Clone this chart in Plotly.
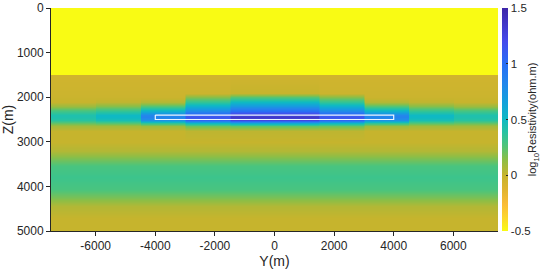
import plotly.graph_objects as go

# horizontal blocks of the inversion grid (m)
block_edges = [-7500, -6000, -4500, -3000, -1500, 0, 1500, 3000, 4500, 6000, 7500]

# depth nodes (m)
depth_nodes = [0, 1490, 1510, 1900, 2000, 2100, 2200, 2300, 2400, 2450, 2500, 2580,
               2650, 2750, 3000, 3200, 3350, 3550, 3800, 4050, 4250, 4450, 4700, 5000]

# log10 resistivity profiles, outer block -> centre block (mirrored on the right)
prof_7500_6000 = [-0.5, -0.5, -0.05, -0.03, -0.02, 0.0, 0.1, 0.3, 0.42, 0.42, 0.38, 0.22,
                  0.08, 0.0, 0.0, 0.05, 0.15, 0.28, 0.32, 0.28, 0.17, 0.05, 0.0, 0.0]
prof_6000_4500 = [-0.5, -0.5, -0.05, -0.03, -0.02, 0.02, 0.15, 0.35, 0.5, 0.5, 0.45, 0.25,
                  0.08, 0.0, 0.0, 0.05, 0.15, 0.28, 0.32, 0.28, 0.17, 0.05, 0.0, 0.0]
prof_4500_3000 = [-0.5, -0.5, -0.05, -0.03, -0.02, 0.05, 0.25, 0.55, 0.82, 0.85, 0.75, 0.35,
                  0.1, 0.0, 0.0, 0.05, 0.15, 0.28, 0.32, 0.28, 0.17, 0.05, 0.0, 0.0]
prof_3000_1500 = [-0.5, -0.5, -0.05, -0.03, 0.15, 0.35, 0.55, 0.8, 1.1, 1.15, 1.05, 0.5,
                  0.2, 0.02, 0.0, 0.05, 0.15, 0.28, 0.32, 0.28, 0.17, 0.05, 0.0, 0.0]
prof_1500_0 = [-0.5, -0.5, -0.05, 0.0, 0.25, 0.5, 0.7, 1.0, 1.3, 1.35, 1.25, 0.6,
               0.22, 0.02, 0.0, 0.05, 0.15, 0.28, 0.32, 0.28, 0.17, 0.05, 0.0, 0.0]

# reservoir outline (m)
reservoir_y = [-4000, 4000]
reservoir_z = [2400, 2500]

x_ticks = [-6000, -4000, -2000, 0, 2000, 4000, 6000]
z_ticks = [0, 1000, 2000, 3000, 4000, 5000]
cbar_ticks = [-0.5, 0, 0.5, 1, 1.5]

half = [prof_7500_6000, prof_6000_4500, prof_4500_3000, prof_3000_1500, prof_1500_0]
block_profiles = half + half[::-1]

# two nodes per block so blocks stay sharp sideways while depth is smoothed
gap = 25
x_nodes = []
for a, b in zip(block_edges[:-1], block_edges[1:]):
    x_nodes += [a + gap, b - gap]
z = []
for i in range(len(depth_nodes)):
    row = []
    for p in block_profiles:
        row += [p[i], p[i]]
    z.append(row)

parula_r = [
    [0.00, "rgb(249,251,20)"],
    [0.06, "rgb(252,215,45)"],
    [0.12, "rgb(250,188,55)"],
    [0.19, "rgb(222,180,48)"],
    [0.25, "rgb(198,180,45)"],
    [0.32, "rgb(140,190,70)"],
    [0.38, "rgb(80,196,120)"],
    [0.44, "rgb(40,195,160)"],
    [0.50, "rgb(15,185,195)"],
    [0.58, "rgb(20,160,220)"],
    [0.66, "rgb(35,135,235)"],
    [0.75, "rgb(40,110,245)"],
    [0.85, "rgb(70,75,235)"],
    [1.00, "rgb(62,38,168)"],
]

fam = "Liberation Sans, Arial, sans-serif"
font = dict(family=fam, size=12, color="#262626")

fig = go.Figure()
fig.add_trace(
    go.Heatmap(
        x=x_nodes,
        y=depth_nodes,
        z=z,
        zmin=-0.5,
        zmax=1.5,
        zsmooth="best",
        colorscale=parula_r,
        colorbar=dict(
            x=1.009,
            xanchor="left",
            xpad=0,
            ypad=0,
            y=0.5,
            len=1,
            thickness=6,
            outlinewidth=0,
            tickvals=cbar_ticks,
            ticktext=[f"{v:g}" for v in cbar_ticks],
            ticks="inside",
            ticklen=2,
            tickcolor="#262626",
            tickfont=dict(family=fam, size=11.5, color="#262626"),
        ),
        hoverinfo="skip",
    )
)
fig.add_trace(
    go.Scatter(
        x=[reservoir_y[0], reservoir_y[1], reservoir_y[1], reservoir_y[0], reservoir_y[0]],
        y=[reservoir_z[0], reservoir_z[0], reservoir_z[1], reservoir_z[1], reservoir_z[0]],
        mode="lines",
        line=dict(color="rgb(235,245,255)", width=1.2),
        showlegend=False,
        hoverinfo="skip",
    )
)

fig.update_layout(
    width=550,
    height=271,
    margin=dict(l=51, r=52, t=8, b=40, autoexpand=False),
    paper_bgcolor="white",
    plot_bgcolor="white",
    font=font,
    showlegend=False,
    annotations=[
        dict(
            text="log<sub>10</sub>Resistivity(ohm.m)",
            x=1.098,
            y=0.5,
            xref="paper",
            yref="paper",
            textangle=-90,
            showarrow=False,
            font=dict(family=fam, size=11, color="#262626"),
        )
    ],
)
fig.update_xaxes(
    range=[-7500, 7500],
    tickvals=x_ticks,
    ticktext=[str(v) for v in x_ticks],
    showgrid=False,
    zeroline=False,
    showline=True,
    linecolor="#262626",
    linewidth=1,
    ticks="outside",
    ticklen=4,
    tickcolor="#262626",
    automargin=False,
    title=dict(text="Y(m)", standoff=0),
)
fig.update_yaxes(
    range=[5000, 0],
    tickvals=z_ticks,
    ticktext=[str(v) for v in z_ticks],
    showgrid=False,
    zeroline=False,
    showline=True,
    linecolor="#262626",
    linewidth=1,
    ticks="outside",
    ticklen=4,
    tickcolor="#262626",
    automargin=False,
    title=dict(text="Z(m)", standoff=4),
)

fig.write_html(
    "out.html",
    config={"displayModeBar": False},
    post_script="document.body.style.margin='0';",
)
